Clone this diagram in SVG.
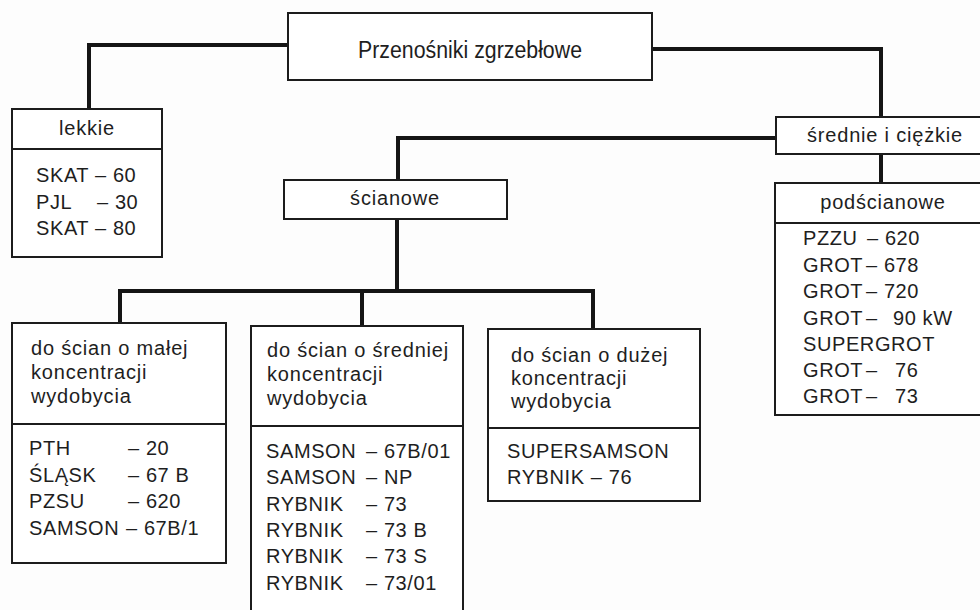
<svg xmlns="http://www.w3.org/2000/svg" width="980" height="610" viewBox="0 0 980 610">
<style>
.bg{fill:#fdfdfd}
.box{fill:#ffffff;stroke:#1c1c1c;stroke-width:2}
.div{stroke:#1c1c1c;stroke-width:2;fill:none}
.con{fill:none;stroke:#151515;stroke-width:4;stroke-linejoin:miter}
text{font-family:"Liberation Sans",Arial,sans-serif;font-size:20px;fill:#1e1e1e;letter-spacing:0.6px}
.h{letter-spacing:0.8px}
.c{text-anchor:middle}
.title{font-size:23px;letter-spacing:0}
</style>
<rect class="bg" x="0" y="0" width="980" height="610"/>
<g id="connectors">
<path class="con" d="M288,45 H89 V109"/>
<path class="con" d="M652,49 H881 V117"/>
<path class="con" d="M398,180 V138 H776"/>
<path class="con" d="M881,154 V183"/>
<path class="con" d="M397,219 V291"/>
<path class="con" d="M120,323 V291 H593 V329"/>
<path class="con" d="M362,291 V326"/>
</g>
<g id="root">
<rect class="box" x="288" y="13" width="364" height="67"/>
<text class="title c" x="470" y="58" textLength="224" lengthAdjust="spacingAndGlyphs">Przenośniki zgrzebłowe</text>
</g>
<g id="lekkie">
<rect class="box" x="12" y="109" width="150" height="148"/>
<line class="div" x1="12" y1="149" x2="162" y2="149"/>
<text class="c h" x="87" y="135">lekkie</text>
<text x="36" y="182">SKAT</text><text x="95" y="182">– 60</text>
<text x="36" y="209">PJL</text><text x="97" y="209">– 30</text>
<text x="36" y="235">SKAT</text><text x="95" y="235">– 80</text>
</g>
<g id="srednie">
<rect class="box" x="776" y="117" width="220" height="37"/>
<text class="c h" x="885" y="142">średnie i ciężkie</text>
</g>
<g id="scianowe">
<rect class="box" x="284" y="180" width="223" height="39"/>
<text class="c h" x="395" y="205">ścianowe</text>
</g>
<g id="podscianowe">
<rect class="box" x="775" y="183" width="220" height="232"/>
<line class="div" x1="775" y1="223" x2="995" y2="223"/>
<text class="c h" x="883" y="209">podścianowe</text>
<text x="803" y="245">PZZU</text><text x="867" y="245">– 620</text>
<text x="803" y="272">GROT</text><text x="866" y="272">– 678</text>
<text x="803" y="298">GROT</text><text x="866" y="298">– 720</text>
<text x="803" y="325">GROT</text><text x="866" y="325">–</text><text x="893" y="325">90 kW</text>
<text x="803" y="351">SUPERGROT</text>
<text x="803" y="377">GROT</text><text x="866" y="377">–</text><text x="895" y="377">76</text>
<text x="803" y="403">GROT</text><text x="866" y="403">–</text><text x="895" y="403">73</text>
</g>
<g id="mala">
<rect class="box" x="12" y="323" width="214" height="240"/>
<line class="div" x1="12" y1="424" x2="226" y2="424"/>
<text class="h" x="31" y="355">do ścian o małej</text>
<text class="h" x="31" y="379">koncentracji</text>
<text class="h" x="31" y="403">wydobycia</text>
<text x="29" y="455">PTH</text><text x="128" y="455">– 20</text>
<text x="29" y="482">ŚLĄSK</text><text x="128" y="482">– 67 B</text>
<text x="29" y="508">PZSU</text><text x="128" y="508">– 620</text>
<text x="29" y="535">SAMSON</text><text x="126" y="535">– 67B/1</text>
</g>
<g id="srednia">
<rect class="box" x="251" y="326" width="212" height="300"/>
<line class="div" x1="251" y1="426" x2="463" y2="426"/>
<text class="h" x="267" y="357">do ścian o średniej</text>
<text class="h" x="267" y="381">koncentracji</text>
<text class="h" x="267" y="405">wydobycia</text>
<text x="266" y="458">SAMSON</text><text x="366" y="458">– 67B/01</text>
<text x="266" y="484">SAMSON</text><text x="366" y="484">– NP</text>
<text x="266" y="511">RYBNIK</text><text x="366" y="511">– 73</text>
<text x="266" y="537">RYBNIK</text><text x="366" y="537">– 73 B</text>
<text x="266" y="563">RYBNIK</text><text x="366" y="563">– 73 S</text>
<text x="266" y="590">RYBNIK</text><text x="366" y="590">– 73/01</text>
</g>
<g id="duza">
<rect class="box" x="488" y="329" width="212" height="172"/>
<line class="div" x1="488" y1="428" x2="700" y2="428"/>
<text class="h" x="511" y="362">do ścian o dużej</text>
<text class="h" x="511" y="385">koncentracji</text>
<text class="h" x="511" y="408">wydobycia</text>
<text x="507" y="458">SUPERSAMSON</text>
<text x="507" y="484">RYBNIK – 76</text>
</g>
</svg>
